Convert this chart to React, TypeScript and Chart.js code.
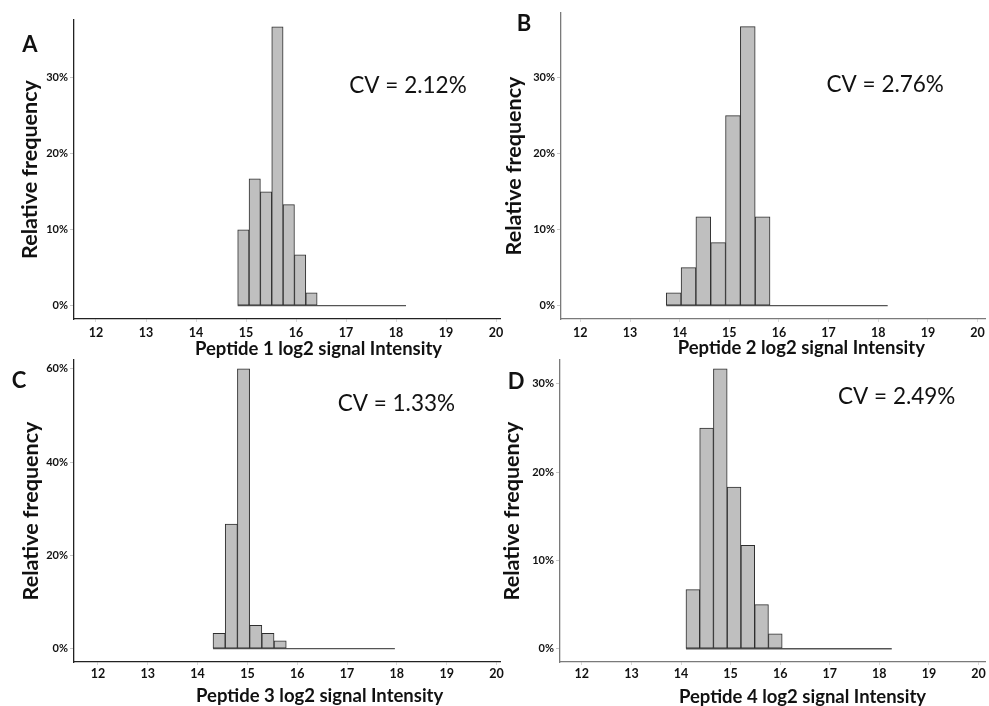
import React, { useEffect, useRef } from 'react';
import { Chart, registerables } from 'chart.js';

Chart.register(...registerables);

const FONT = 'Lato, "Open Sans", "DejaVu Sans", sans-serif';

// ---------- data ----------
const xTickValues = [12, 13, 14, 15, 16, 17, 18, 19, 20];

const panelLetters = ['A', 'B', 'C', 'D'];
const cvLabels = ['CV = 2.12%', 'CV = 2.76%', 'CV = 1.33%', 'CV = 2.49%'];
const xTitles = [
  'Peptide 1 log2 signal Intensity',
  'Peptide 2 log2 signal Intensity',
  'Peptide 3 log2 signal Intensity',
  'Peptide 4 log2 signal Intensity',
];
const yTitle = 'Relative frequency';

// bin edges (log2 intensity) and relative frequencies (%)
const edgesA = [14.834, 15.061, 15.288, 15.515, 15.742, 15.969, 16.196, 16.423];
const freqA = [10, 16.7, 15, 36.7, 13.3, 6.7, 1.7];
const yTicksA = [0, 10, 20, 30];

const edgesB = [13.73, 14.029, 14.327, 14.626, 14.924, 15.223, 15.521, 15.82];
const freqB = [1.7, 5, 11.7, 8.3, 25, 36.7, 11.7];
const yTicksB = [0, 10, 20, 30];

const edgesC = [14.31, 14.555, 14.8, 15.045, 15.29, 15.535, 15.78];
const freqC = [3.3, 26.7, 60, 5, 3.3, 1.7];
const yTicksC = [0, 20, 40, 60];

const edgesD = [14.1, 14.377, 14.654, 14.931, 15.209, 15.486, 15.763, 16.04];
const freqD = [6.7, 25, 31.7, 18.3, 11.7, 5, 1.7];
const yTicksD = [0, 10, 20, 30];

// end of the zero-baseline of each histogram
const baselineEnds = [18.2, 18.19, 17.96, 18.25];

// ---------- layout ----------
const PANELS = [
  {
    edges: edgesA, freq: freqA, yTicks: yTicksA, tail: baselineEnds[0],
    left: 0, top: 0, w: 505, h: 358, pad: { top: 20, right: 5, left: 0, bottom: 0 },
    yW: 74, xH: 39, xMin: 11.56, xMax: 20.08, yMin: -1.75, yMax: 37.6,
    yTitlePad: 17, letterX: 30, letterY: 45, xTitleDy: 30, xTickPad: 3,
    cvX: 18.24, cvY: 29, axis: '#222',
  },
  {
    edges: edgesB, freq: freqB, yTicks: yTicksB, tail: baselineEnds[1],
    left: 495, top: 0, w: 494, h: 358, pad: { top: 13, right: 4, left: 0, bottom: 0 },
    yW: 66, xH: 39, xMin: 11.61, xMax: 20.15, yMin: -1.75, yMax: 38.5,
    yTitlePad: 6.4, letterX: 29, letterY: 24, xTitleDy: 29, xTickPad: 3,
    cvX: 18.14, cvY: 29.1, axis: '#7a7a7a',
  },
  {
    edges: edgesC, freq: freqC, yTicks: yTicksC, tail: baselineEnds[2],
    left: 0, top: 358, w: 505, h: 348, pad: { top: 2, right: 5, left: 0, bottom: 0 },
    yW: 74, xH: 44, xMin: 11.52, xMax: 20.07, yMin: -2.85, yMax: 61.9,
    yTitlePad: 18.4, letterX: 19, letterY: 23, xTitleDy: 34, xTickPad: 1,
    cvX: 17.99, cvY: 52.5, axis: '#222',
  },
  {
    edges: edgesD, freq: freqD, yTicks: yTicksD, tail: baselineEnds[3],
    left: 495, top: 358, w: 494, h: 348, pad: { top: 2, right: 4, left: 0, bottom: 0 },
    yW: 65, xH: 44, xMin: 11.56, xMax: 20.13, yMin: -1.5, yMax: 32.7,
    yTitlePad: 4.4, letterX: 21, letterY: 24, xTitleDy: 35, xTickPad: 1,
    cvX: 18.35, cvY: 28.5, axis: '#7a7a7a',
  },
];

const annotPlugin = {
  id: 'annot',
  afterDraw(chart: any, _args: any, opts: any) {
    const { ctx, chartArea } = chart;
    const x = chart.scales.x;
    const y = chart.scales.y;
    ctx.save();
    ctx.fillStyle = '#111';
    ctx.textAlign = 'center';
    ctx.textBaseline = 'middle';
    ctx.font = `bold 22px ${FONT}`;
    ctx.fillText(opts.letter, opts.letterX, opts.letterY);
    ctx.font = `22.5px ${FONT}`;
    ctx.fillText(opts.cv, x.getPixelForValue(opts.cvX), y.getPixelForValue(opts.cvY));
    ctx.font = `bold 18.5px ${FONT}`;
    ctx.fillText(opts.xTitle, x.getPixelForValue(opts.xTitleAt), chartArea.bottom + opts.xTitleDy);
    ctx.restore();
  },
};

function Panel({ index }: { index: number }) {
  const ref = useRef<HTMLCanvasElement>(null);
  const p = PANELS[index];
  useEffect(() => {
    if (!ref.current) return;
    const bars = p.freq.map((v, i) => ({ x: (p.edges[i] + p.edges[i + 1]) / 2, y: v }));
    const chart = new Chart(ref.current, {
      type: 'bar',
      data: {
        datasets: [
          {
            type: 'bar',
            data: bars,
            backgroundColor: '#bfbfbf',
            borderColor: '#2e2e2e',
            borderWidth: 1,
            borderSkipped: false,
            barPercentage: 1,
            categoryPercentage: 1,
            order: 1,
          } as any,
          {
            type: 'line',
            data: [{ x: p.edges[0], y: 0 }, { x: p.tail, y: 0 }],
            borderColor: '#555',
            borderWidth: 1.3,
            pointRadius: 0,
            order: 2,
          } as any,
        ],
      },
      options: {
        responsive: false,
        animation: false,
        events: [],
        layout: { padding: p.pad },
        plugins: {
          legend: { display: false },
          tooltip: { enabled: false },
          annot: {
            letter: panelLetters[index],
            letterX: p.letterX,
            letterY: p.letterY,
            cv: cvLabels[index],
            cvX: p.cvX,
            cvY: p.cvY,
            xTitle: xTitles[index],
            xTitleAt: 16.45,
            xTitleDy: p.xTitleDy,
          },
        } as any,
        scales: {
          x: {
            type: 'linear',
            min: p.xMin,
            max: p.xMax,
            offset: false,
            afterBuildTicks: (s: any) => {
              s.ticks = xTickValues.map((v) => ({ value: v }));
            },
            afterFit: (s: any) => {
              s.height = p.xH;
              s.paddingLeft = 0;
              s.paddingRight = 0;
            },
            grid: {
              offset: false,
              drawOnChartArea: false,
              drawTicks: true,
              tickLength: 3,
              color: '#d8d8d8',
            },
            border: { display: true, color: p.axis, width: 1.3 },
            ticks: {
              padding: p.xTickPad,
              maxRotation: 0,
              autoSkip: false,
              color: '#111',
              font: { family: FONT, size: 12.5, weight: 'bold' },
              callback: (v: any) => String(v),
            },
          },
          y: {
            type: 'linear',
            min: p.yMin,
            max: p.yMax,
            afterBuildTicks: (s: any) => {
              s.ticks = p.yTicks.map((v) => ({ value: v }));
            },
            afterFit: (s: any) => {
              s.width = p.yW;
              s.paddingTop = 0;
              s.paddingBottom = 0;
            },
            grid: {
              drawOnChartArea: false,
              drawTicks: true,
              tickLength: 4,
              color: '#c8c8c8',
            },
            border: { display: true, color: p.axis, width: 1.3 },
            ticks: {
              padding: 2,
              color: '#111',
              font: { family: FONT, size: 11, weight: 'bold' },
              callback: (v: any) => `${v}%`,
            },
            title: {
              display: true,
              text: yTitle,
              color: '#111',
              padding: { top: p.yTitlePad, bottom: 0 },
              font: { family: FONT, size: 21.5, weight: 'bold' },
            },
          },
        },
      } as any,
      plugins: [annotPlugin],
    });
    return () => chart.destroy();
  }, []);
  return (
    <canvas
      ref={ref}
      width={p.w}
      height={p.h}
      style={{ position: 'absolute', left: p.left, top: p.top, width: p.w, height: p.h }}
    />
  );
}

export default function App() {
  return (
    <div
      style={{
        position: 'absolute',
        left: 0,
        top: 0,
        width: 989,
        height: 706,
        background: '#fff',
        overflow: 'hidden',
      }}
    >
      {PANELS.map((_, i) => (
        <Panel key={i} index={i} />
      ))}
    </div>
  );
}
